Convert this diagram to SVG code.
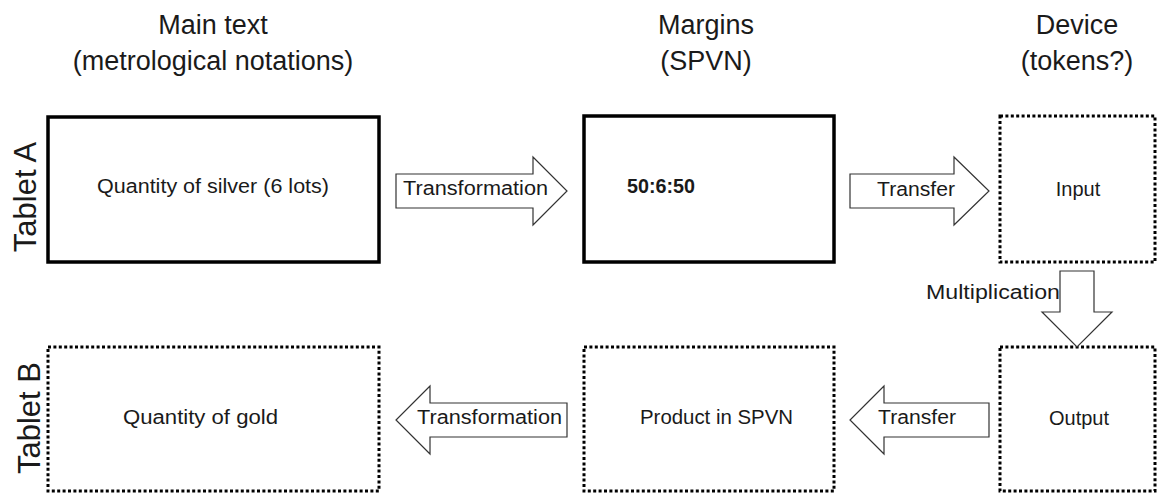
<svg xmlns="http://www.w3.org/2000/svg" width="1157" height="493" viewBox="0 0 1157 493">
<style>
  text { font-family: "Liberation Sans", Arial, sans-serif; fill: #1a1a1a; }
  .hdr { font-size: 27px; text-anchor: middle; }
  .side { font-size: 31px; text-anchor: middle; }
  .lbl { font-size: 20px; }
  .solid { fill: #fff; stroke: #000; stroke-width: 3.5; }
  .dotted { fill: #fff; stroke: #000; stroke-width: 3; stroke-dasharray: 3 2.4; }
  .arrow { fill: #fff; stroke: #333; stroke-width: 1.2; stroke-linejoin: miter; }
</style>
<rect width="1157" height="493" fill="#fff"/>
<g id="headers">
  <text class="hdr" x="213" y="34">Main text</text>
  <text class="hdr" x="213" y="70">(metrological notations)</text>
  <text class="hdr" x="706" y="34">Margins</text>
  <text class="hdr" x="706" y="70">(SPVN)</text>
  <text class="hdr" x="1077" y="34">Device</text>
  <text class="hdr" x="1077" y="70">(tokens?)</text>
</g>
<g id="tabletA-label">
  <text class="side" transform="translate(36,197) rotate(-90)">Tablet A</text>
</g>
<g id="tabletB-label">
  <text class="side" transform="translate(40,418) rotate(-90)">Tablet B</text>
</g>
<g id="node-silver">
  <rect class="solid" x="48" y="117" width="331" height="145"/>
  <text class="lbl" x="97" y="193" textLength="232" lengthAdjust="spacingAndGlyphs">Quantity of silver (6 lots)</text>
</g>
<g id="node-margins">
  <rect class="solid" x="584" y="116" width="250" height="146"/>
  <text class="lbl" x="627" y="193" font-weight="bold" textLength="68" lengthAdjust="spacingAndGlyphs">50:6:50</text>
</g>
<g id="node-input">
  <rect class="dotted" x="1000" y="116" width="155" height="146"/>
  <text class="lbl" x="1078" y="196" text-anchor="middle">Input</text>
</g>
<g id="node-gold">
  <rect class="dotted" x="48" y="347" width="331" height="144"/>
  <text class="lbl" x="123" y="424" textLength="155" lengthAdjust="spacingAndGlyphs">Quantity of gold</text>
</g>
<g id="node-product">
  <rect class="dotted" x="584" y="347" width="250" height="144"/>
  <text class="lbl" x="640" y="424" textLength="153" lengthAdjust="spacingAndGlyphs">Product in SPVN</text>
</g>
<g id="node-output">
  <rect class="dotted" x="1000" y="347" width="155" height="144"/>
  <text class="lbl" x="1079" y="425" text-anchor="middle">Output</text>
</g>
<g id="connectors">
  <polygon class="arrow" points="396,174 533,174 533,157 567,191 533,225 533,208 396,208"/>
  <text class="lbl" x="403" y="195" textLength="145" lengthAdjust="spacingAndGlyphs">Transformation</text>
  <polygon class="arrow" points="850,174 954,174 954,157 989,191 954,225 954,208 850,208"/>
  <text class="lbl" x="877" y="196" textLength="78" lengthAdjust="spacingAndGlyphs">Transfer</text>
  <polygon class="arrow" points="1060,271 1094,271 1094,312 1112,312 1077,347 1042,312 1060,312"/>
  <text class="lbl" x="926" y="299" textLength="134" lengthAdjust="spacingAndGlyphs">Multiplication</text>
  <polygon class="arrow" points="989,403 884,403 884,386 850,420 884,454 884,437 989,437"/>
  <text class="lbl" x="878" y="424" textLength="78" lengthAdjust="spacingAndGlyphs">Transfer</text>
  <polygon class="arrow" points="567,403 430,403 430,386 396,420 430,454 430,437 567,437"/>
  <text class="lbl" x="417" y="424" textLength="145" lengthAdjust="spacingAndGlyphs">Transformation</text>
</g>
</svg>
